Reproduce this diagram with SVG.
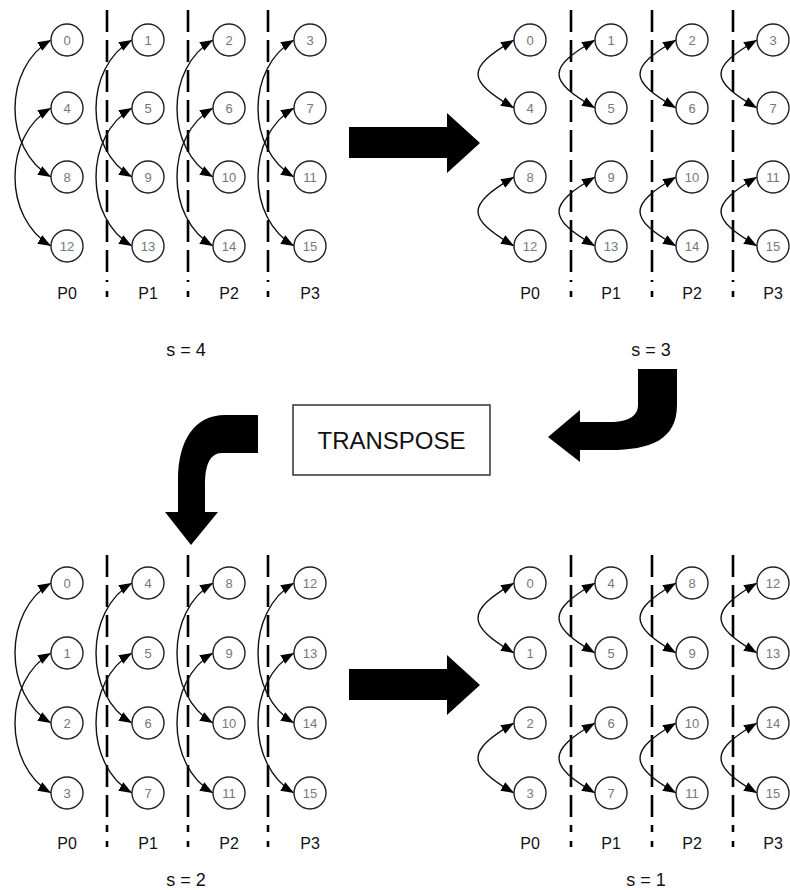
<svg xmlns="http://www.w3.org/2000/svg" width="790" height="890" viewBox="0 0 790 890">
<defs>
<marker id="ah" markerUnits="userSpaceOnUse" markerWidth="14" markerHeight="11" refX="13" refY="5" orient="auto-start-reverse">
<path d="M0,0 L13,5 L0,10 z" fill="#000"/>
</marker>
<style>
.n circle{fill:#fff;stroke:#222;stroke-width:1.4}
.n text{font-family:"Liberation Sans",Arial,sans-serif;font-size:13px;fill:#777;text-anchor:middle}
.arc{fill:none;stroke:#111;stroke-width:1.4;marker-start:url(#ah);marker-end:url(#ah)}
.dash{stroke:#000;stroke-width:2.6;stroke-dasharray:22 8;fill:none}
.dot{stroke:#000;stroke-width:2.6}
.pl{font-family:"Liberation Sans",Arial,sans-serif;font-size:16px;fill:#111;text-anchor:middle}
.sl{font-family:"Liberation Sans",Arial,sans-serif;font-size:18px;fill:#111;text-anchor:middle}
.big{fill:#000}
</style>
</defs>
<rect width="790" height="890" fill="#fff"/>

<g id="separators">
<path class="dash" d="M107,10 V282 M188,10 V282 M268,10 V282"/>
<path class="dot" d="M107,291 V297 M188,291 V297 M268,291 V297"/>
<path class="dash" d="M571,10 V282 M652,10 V282 M733,10 V282"/>
<path class="dot" d="M571,291 V297 M652,291 V297 M733,291 V297"/>
<path class="dash" d="M107,555 V832 M188,555 V832 M268,555 V832"/>
<path class="dot" d="M107,841 V847 M188,841 V847 M268,841 V847"/>
<path class="dash" d="M571,555 V832 M652,555 V832 M733,555 V832"/>
<path class="dot" d="M571,841 V847 M652,841 V847 M733,841 V847"/>
</g>

<g id="connectors">
<path class="arc" d="M51,40 C3,68 3,149 51,177"/>
<path class="arc" d="M51,108 C3,136 3,218 51,246"/>
<path class="arc" d="M132,40 C84,68 84,149 132,177"/>
<path class="arc" d="M132,108 C84,136 84,218 132,246"/>
<path class="arc" d="M213,40 C165,68 165,149 213,177"/>
<path class="arc" d="M213,108 C165,136 165,218 213,246"/>
<path class="arc" d="M294,40 C246,68 246,149 294,177"/>
<path class="arc" d="M294,108 C246,136 246,218 294,246"/>
<path class="arc" d="M514,40 C466,68 466,80 514,108"/>
<path class="arc" d="M514,177 C466,205 466,218 514,246"/>
<path class="arc" d="M595,40 C547,68 547,80 595,108"/>
<path class="arc" d="M595,177 C547,205 547,218 595,246"/>
<path class="arc" d="M676,40 C628,68 628,80 676,108"/>
<path class="arc" d="M676,177 C628,205 628,218 676,246"/>
<path class="arc" d="M757,40 C709,68 709,80 757,108"/>
<path class="arc" d="M757,177 C709,205 709,218 757,246"/>
<path class="arc" d="M51,583 C3,611 3,695 51,723"/>
<path class="arc" d="M51,653 C3,681 3,765 51,793"/>
<path class="arc" d="M132,583 C84,611 84,695 132,723"/>
<path class="arc" d="M132,653 C84,681 84,765 132,793"/>
<path class="arc" d="M213,583 C165,611 165,695 213,723"/>
<path class="arc" d="M213,653 C165,681 165,765 213,793"/>
<path class="arc" d="M294,583 C246,611 246,695 294,723"/>
<path class="arc" d="M294,653 C246,681 246,765 294,793"/>
<path class="arc" d="M514,583 C466,611 466,625 514,653"/>
<path class="arc" d="M514,723 C466,751 466,765 514,793"/>
<path class="arc" d="M595,583 C547,611 547,625 595,653"/>
<path class="arc" d="M595,723 C547,751 547,765 595,793"/>
<path class="arc" d="M676,583 C628,611 628,625 676,653"/>
<path class="arc" d="M676,723 C628,751 628,765 676,793"/>
<path class="arc" d="M757,583 C709,611 709,625 757,653"/>
<path class="arc" d="M757,723 C709,751 709,765 757,793"/>
<path class="big" d="M349,127 H447 V113 L480,143 L447,173 V158 H349 Z"/>
<path class="big" d="M349,669 H447 V655 L480,685 L447,715 V700 H349 Z"/>
<path class="big" d="M638,369 H677 V405 C677,440 650,450 610,450 H580 V462 L548,437 L580,410 V422 H610 C630,422 638,415 638,405 Z"/>
<path class="big" d="M258,415 V453 H222 C210,453 205,465 205,485 V512 H218 L191,545 L165,512 H178 V480 C178,440 195,415 225,415 Z"/>
</g>

<g id="tl-0" class="n"><circle cx="67" cy="40" r="16"/><text x="67" y="45">0</text></g>
<g id="tl-1" class="n"><circle cx="148" cy="40" r="16"/><text x="148" y="45">1</text></g>
<g id="tl-2" class="n"><circle cx="229" cy="40" r="16"/><text x="229" y="45">2</text></g>
<g id="tl-3" class="n"><circle cx="310" cy="40" r="16"/><text x="310" y="45">3</text></g>
<g id="tl-4" class="n"><circle cx="67" cy="108" r="16"/><text x="67" y="113">4</text></g>
<g id="tl-5" class="n"><circle cx="148" cy="108" r="16"/><text x="148" y="113">5</text></g>
<g id="tl-6" class="n"><circle cx="229" cy="108" r="16"/><text x="229" y="113">6</text></g>
<g id="tl-7" class="n"><circle cx="310" cy="108" r="16"/><text x="310" y="113">7</text></g>
<g id="tl-8" class="n"><circle cx="67" cy="177" r="16"/><text x="67" y="182">8</text></g>
<g id="tl-9" class="n"><circle cx="148" cy="177" r="16"/><text x="148" y="182">9</text></g>
<g id="tl-10" class="n"><circle cx="229" cy="177" r="16"/><text x="229" y="182">10</text></g>
<g id="tl-11" class="n"><circle cx="310" cy="177" r="16"/><text x="310" y="182">11</text></g>
<g id="tl-12" class="n"><circle cx="67" cy="246" r="16"/><text x="67" y="251">12</text></g>
<g id="tl-13" class="n"><circle cx="148" cy="246" r="16"/><text x="148" y="251">13</text></g>
<g id="tl-14" class="n"><circle cx="229" cy="246" r="16"/><text x="229" y="251">14</text></g>
<g id="tl-15" class="n"><circle cx="310" cy="246" r="16"/><text x="310" y="251">15</text></g>

<g id="tr-0" class="n"><circle cx="530" cy="40" r="16"/><text x="530" y="45">0</text></g>
<g id="tr-1" class="n"><circle cx="611" cy="40" r="16"/><text x="611" y="45">1</text></g>
<g id="tr-2" class="n"><circle cx="692" cy="40" r="16"/><text x="692" y="45">2</text></g>
<g id="tr-3" class="n"><circle cx="773" cy="40" r="16"/><text x="773" y="45">3</text></g>
<g id="tr-4" class="n"><circle cx="530" cy="108" r="16"/><text x="530" y="113">4</text></g>
<g id="tr-5" class="n"><circle cx="611" cy="108" r="16"/><text x="611" y="113">5</text></g>
<g id="tr-6" class="n"><circle cx="692" cy="108" r="16"/><text x="692" y="113">6</text></g>
<g id="tr-7" class="n"><circle cx="773" cy="108" r="16"/><text x="773" y="113">7</text></g>
<g id="tr-8" class="n"><circle cx="530" cy="177" r="16"/><text x="530" y="182">8</text></g>
<g id="tr-9" class="n"><circle cx="611" cy="177" r="16"/><text x="611" y="182">9</text></g>
<g id="tr-10" class="n"><circle cx="692" cy="177" r="16"/><text x="692" y="182">10</text></g>
<g id="tr-11" class="n"><circle cx="773" cy="177" r="16"/><text x="773" y="182">11</text></g>
<g id="tr-12" class="n"><circle cx="530" cy="246" r="16"/><text x="530" y="251">12</text></g>
<g id="tr-13" class="n"><circle cx="611" cy="246" r="16"/><text x="611" y="251">13</text></g>
<g id="tr-14" class="n"><circle cx="692" cy="246" r="16"/><text x="692" y="251">14</text></g>
<g id="tr-15" class="n"><circle cx="773" cy="246" r="16"/><text x="773" y="251">15</text></g>

<g id="bl-0" class="n"><circle cx="67" cy="583" r="16"/><text x="67" y="588">0</text></g>
<g id="bl-4" class="n"><circle cx="148" cy="583" r="16"/><text x="148" y="588">4</text></g>
<g id="bl-8" class="n"><circle cx="229" cy="583" r="16"/><text x="229" y="588">8</text></g>
<g id="bl-12" class="n"><circle cx="310" cy="583" r="16"/><text x="310" y="588">12</text></g>
<g id="bl-1" class="n"><circle cx="67" cy="653" r="16"/><text x="67" y="658">1</text></g>
<g id="bl-5" class="n"><circle cx="148" cy="653" r="16"/><text x="148" y="658">5</text></g>
<g id="bl-9" class="n"><circle cx="229" cy="653" r="16"/><text x="229" y="658">9</text></g>
<g id="bl-13" class="n"><circle cx="310" cy="653" r="16"/><text x="310" y="658">13</text></g>
<g id="bl-2" class="n"><circle cx="67" cy="723" r="16"/><text x="67" y="728">2</text></g>
<g id="bl-6" class="n"><circle cx="148" cy="723" r="16"/><text x="148" y="728">6</text></g>
<g id="bl-10" class="n"><circle cx="229" cy="723" r="16"/><text x="229" y="728">10</text></g>
<g id="bl-14" class="n"><circle cx="310" cy="723" r="16"/><text x="310" y="728">14</text></g>
<g id="bl-3" class="n"><circle cx="67" cy="793" r="16"/><text x="67" y="798">3</text></g>
<g id="bl-7" class="n"><circle cx="148" cy="793" r="16"/><text x="148" y="798">7</text></g>
<g id="bl-11" class="n"><circle cx="229" cy="793" r="16"/><text x="229" y="798">11</text></g>
<g id="bl-15" class="n"><circle cx="310" cy="793" r="16"/><text x="310" y="798">15</text></g>

<g id="br-0" class="n"><circle cx="530" cy="583" r="16"/><text x="530" y="588">0</text></g>
<g id="br-4" class="n"><circle cx="611" cy="583" r="16"/><text x="611" y="588">4</text></g>
<g id="br-8" class="n"><circle cx="692" cy="583" r="16"/><text x="692" y="588">8</text></g>
<g id="br-12" class="n"><circle cx="773" cy="583" r="16"/><text x="773" y="588">12</text></g>
<g id="br-1" class="n"><circle cx="530" cy="653" r="16"/><text x="530" y="658">1</text></g>
<g id="br-5" class="n"><circle cx="611" cy="653" r="16"/><text x="611" y="658">5</text></g>
<g id="br-9" class="n"><circle cx="692" cy="653" r="16"/><text x="692" y="658">9</text></g>
<g id="br-13" class="n"><circle cx="773" cy="653" r="16"/><text x="773" y="658">13</text></g>
<g id="br-2" class="n"><circle cx="530" cy="723" r="16"/><text x="530" y="728">2</text></g>
<g id="br-6" class="n"><circle cx="611" cy="723" r="16"/><text x="611" y="728">6</text></g>
<g id="br-10" class="n"><circle cx="692" cy="723" r="16"/><text x="692" y="728">10</text></g>
<g id="br-14" class="n"><circle cx="773" cy="723" r="16"/><text x="773" y="728">14</text></g>
<g id="br-3" class="n"><circle cx="530" cy="793" r="16"/><text x="530" y="798">3</text></g>
<g id="br-7" class="n"><circle cx="611" cy="793" r="16"/><text x="611" y="798">7</text></g>
<g id="br-11" class="n"><circle cx="692" cy="793" r="16"/><text x="692" y="798">11</text></g>
<g id="br-15" class="n"><circle cx="773" cy="793" r="16"/><text x="773" y="798">15</text></g>

<g id="transpose">
<rect x="293" y="405" width="197" height="70" fill="#fff" stroke="#333" stroke-width="1.5"/>
<text x="391.5" y="449" font-family="Liberation Sans, Arial, sans-serif" font-size="24" text-anchor="middle" fill="#111">TRANSPOSE</text>
</g>

<g id="labels">
<text class="pl" x="67" y="299">P0</text>
<text class="pl" x="148" y="299">P1</text>
<text class="pl" x="229" y="299">P2</text>
<text class="pl" x="310" y="299">P3</text>
<text class="pl" x="530" y="299">P0</text>
<text class="pl" x="611" y="299">P1</text>
<text class="pl" x="692" y="299">P2</text>
<text class="pl" x="773" y="299">P3</text>
<text class="pl" x="67" y="849">P0</text>
<text class="pl" x="148" y="849">P1</text>
<text class="pl" x="229" y="849">P2</text>
<text class="pl" x="310" y="849">P3</text>
<text class="pl" x="530" y="849">P0</text>
<text class="pl" x="611" y="849">P1</text>
<text class="pl" x="692" y="849">P2</text>
<text class="pl" x="773" y="849">P3</text>
<text class="sl" x="186" y="356">s = 4</text>
<text class="sl" x="651" y="356">s = 3</text>
<text class="sl" x="186" y="886">s = 2</text>
<text class="sl" x="646" y="886">s = 1</text>
</g>
</svg>
